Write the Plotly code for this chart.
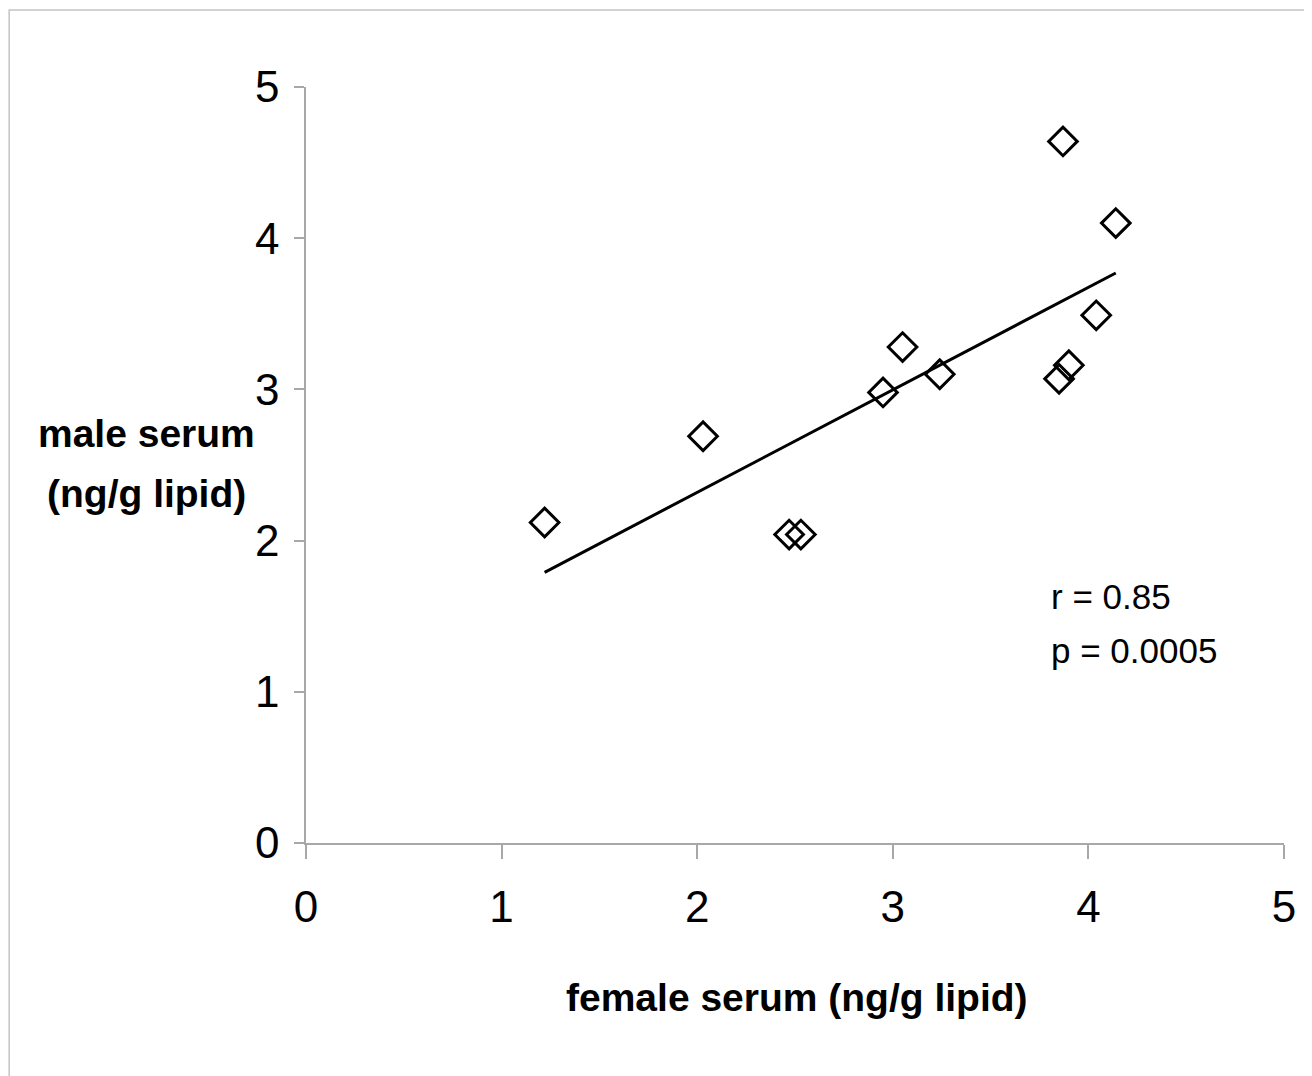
import plotly.graph_objects as go

# data
female = [1.22, 2.03, 2.47, 2.53, 2.95, 3.05, 3.24, 3.85, 3.90, 3.87, 4.04, 4.14]
male = [2.12, 2.69, 2.04, 2.04, 2.98, 3.28, 3.10, 3.07, 3.16, 4.64, 3.49, 4.10]
fit_x = [1.22, 4.14]
fit_y = [1.79, 3.77]
tick_vals = [0, 1, 2, 3, 4, 5]
stats_text = ["r = 0.85", "p = 0.0005"]
stats_y = [1.63, 1.27]
y_title_lines = ["male serum", "(ng/g lipid)"]
y_title_pos = [0.542, 0.462]
x_title = "female serum (ng/g lipid)"

fig = go.Figure()
fig.add_trace(go.Scatter(x=fit_x, y=fit_y, mode="lines",
                         line=dict(color="black", width=3), showlegend=False))
fig.add_trace(go.Scatter(x=female, y=male, mode="markers",
                         marker=dict(symbol="diamond-open", size=22, color="black",
                                     line=dict(color="black", width=3)),
                         showlegend=False))

axis_common = dict(range=[0, 5], tickvals=tick_vals, showgrid=False, zeroline=False,
                   showline=True, linecolor="#a8a8a8", linewidth=1.5,
                   ticks="outside", tickcolor="#a8a8a8", tickwidth=1.5,
                   tickfont=dict(family="Liberation Sans, Arial", size=44, color="black"))

fig.update_xaxes(**axis_common, ticklen=14, ticklabelstandoff=10)
fig.update_yaxes(**axis_common, ticklen=10, ticklabelstandoff=6)

for t, yv in zip(stats_text, stats_y):
    fig.add_annotation(x=3.80, y=yv, xref="x", yref="y", text=t, showarrow=False,
                       xanchor="left", yanchor="middle",
                       font=dict(family="Liberation Sans, Arial", size=35, color="black"))

title_font = dict(family="Liberation Sans, Arial", size=39, color="black", weight="bold")
for t, yv in zip(y_title_lines, y_title_pos):
    fig.add_annotation(x=-0.163, y=yv, xref="paper", yref="paper",
                       text=t, showarrow=False,
                       xanchor="center", yanchor="middle", font=title_font)
fig.add_annotation(x=0.502, y=-0.205, xref="paper", yref="paper",
                   text=x_title, showarrow=False,
                   xanchor="center", yanchor="middle", font=title_font)

fig.add_shape(type="rect", xref="paper", yref="paper", x0=-0.3035, x1=1.2, y0=-0.6, y1=1.102,
              line=dict(color="#c4c4c4", width=1.5), fillcolor="rgba(0,0,0,0)")

fig.update_layout(width=1312, height=1076, plot_bgcolor="white", paper_bgcolor="white",
                  margin=dict(l=298, r=36, t=79, b=241))

fig.write_html("out.html")
